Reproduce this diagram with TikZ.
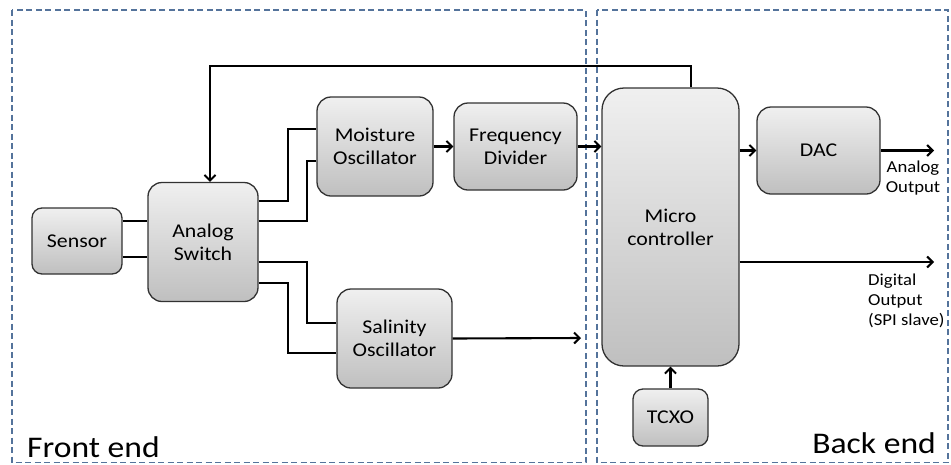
\documentclass[tikz,border=0pt]{standalone}
\usepackage{fontspec}
\setmainfont[FakeStretch=1.12]{Carlito}
\usetikzlibrary{arrows.meta}
\definecolor{dashblue}{RGB}{84,115,155}
\definecolor{boxedge}{RGB}{50,50,50}
\tikzset{
  blk/.style={draw=boxedge, line width=1.3pt, rounded corners=#1, top color=gray!12, bottom color=gray!50,
    minimum width=10pt, inner sep=0pt, align=center, font=\fontsize{19.5}{23}\selectfont},
  blk/.default=14pt,
  wire/.style={line width=2.1pt, black},
  arr/.style={wire, -{Straight Barb[length=5.5pt,width=11pt,line width=2pt]}},
  region/.style={draw=dashblue, line width=1.2pt, dash pattern=on 6pt off 3.5pt},
  lbl/.style={font=\fontsize{16.7}{20}\selectfont, inner sep=0pt},
  biglbl/.style={font=\fontsize{30}{36}\selectfont, inner sep=0pt}
}
\begin{document}
\begin{tikzpicture}[x=1pt,y=-1pt]
\useasboundingbox (0,0) rectangle (951,464);
% regions
\draw[region] (12,10) rectangle (586,462.5);
\draw[region] (597,10) rectangle (948,462.5);
\node[biglbl, anchor=base west] (fe) at (27,457) {Front end};
\node[biglbl, anchor=base east] (be) at (936,453) {Back end};
% blocks
\node[blk=10pt, minimum width=90pt, minimum height=66pt] (sensor) at (77,241) {Sensor};
\node[blk, minimum width=110pt, minimum height=119pt] (as) at (203,242) {Analog\\Switch};
\node[blk, minimum width=116pt, minimum height=99pt] (moist) at (375,146.5) {Moisture\\Oscillator};
\node[blk, minimum width=123pt, minimum height=87pt] (freq) at (515.5,146.5) {Frequency\\Divider};
\node[blk=22pt, minimum width=137pt, minimum height=278pt] (micro) at (670.5,227) {Micro\\controller};
\node[blk, minimum width=123pt, minimum height=87pt] (dac) at (818.5,150.5) {DAC};
\node[blk=10pt, minimum width=75pt, minimum height=57pt] (tcxo) at (670.5,417.5) {TCXO};
\node[blk, minimum width=115pt, minimum height=99pt] (sal) at (394.5,338.5) {Salinity\\Oscillator};
% output labels
\node[lbl, align=center] (aout) at (913,178) {Analog\\Output};
\node[lbl, align=left, anchor=west] (dout) at (868,301) {Digital\\Output\\(SPI slave)};
% free ends
\coordinate (salend) at (581,338);
\coordinate (aoutend) at (934,150.5);
\coordinate (doutend) at (934,262);
% sensor to switch
\draw[wire] (sensor.east |- 0,221) -- (as.west |- 0,221);
\draw[wire] (sensor.east |- 0,257) -- (as.west |- 0,257);
% switch to moisture
\draw[wire] (as.east |- 0,201) -- (288,201) -- (288,129) -- (moist.west |- 0,129);
\draw[wire] (as.east |- 0,221) -- (307,221) -- (307,161) -- (moist.west |- 0,161);
% switch to salinity
\draw[wire] (as.east |- 0,262) -- (307,262) -- (307,323) -- (sal.west |- 0,323);
\draw[wire] (as.east |- 0,283) -- (288,283) -- (288,353) -- (sal.west |- 0,353);
% chain
\draw[arr] (moist.east) -- (freq.west);
\draw[arr] (freq.east) -- (micro.west |- freq.east);
\draw[arr] (sal.east) -- (salend);
\draw[arr] (micro.east |- dac.west) -- (dac.west);
\draw[arr] (dac.east) -- (aoutend);
\draw[arr] (micro.east |- doutend) -- (doutend);
\draw[arr] (tcxo.north) -- (micro.south);
% feedback
\draw[arr] (micro.north -| 691,0) -- (691,66) -- (210,66) -- (as.north -| 210,0);
\end{tikzpicture}
\end{document}
